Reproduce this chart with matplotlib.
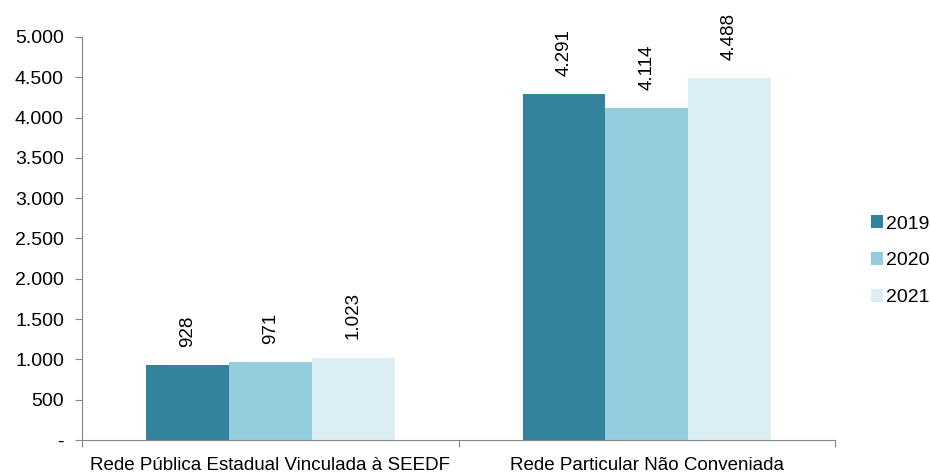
import matplotlib
matplotlib.use("Agg")
import matplotlib.pyplot as plt
import numpy as np
from matplotlib.ticker import FuncFormatter

plt.rcParams["font.family"] = ["Liberation Sans", "DejaVu Sans"]

categories = ["Rede Pública Estadual Vinculada à SEEDF", "Rede Particular Não Conveniada"]
years = ["2019", "2020", "2021"]
values = {
    "2019": [928, 4291],
    "2020": [971, 4114],
    "2021": [1023, 4488],
}
colors = ["#31849B", "#93CDDD", "#DAEEF3"]


def fmt_br(v, _pos=None):
    if v == 0:
        return "-"
    return f"{v:,.0f}".replace(",", ".")


fig = plt.figure(figsize=(9.3, 4.74), dpi=100)
ax = fig.add_axes([0.0882, 0.0717, 0.8097, 0.8505])

x = np.arange(len(categories))
width = 0.22
for i, (year, color) in enumerate(zip(years, colors)):
    pos = x + (i - 1) * width
    bars = ax.bar(pos, values[year], width, color=color, label=year)
    for b, v in zip(bars, values[year]):
        ax.annotate(fmt_br(v), (b.get_x() + b.get_width() / 2, v),
                    xytext=(0, 13), textcoords="offset points",
                    rotation=90, ha="center", va="bottom", fontsize=13.5)

ax.set_xlim(-0.5, 1.5)
ax.set_ylim(0, 5000)
ax.set_yticks(np.arange(0, 5001, 500))
ax.yaxis.set_major_formatter(FuncFormatter(fmt_br))

# category boundaries get the tick marks, names sit on minor ticks
ax.set_xticks([-0.5, 0.5, 1.5])
ax.set_xticklabels([])
ax.set_xticks(x, minor=True)
ax.set_xticklabels(categories, minor=True)
ax.tick_params(axis="x", which="minor", length=0, pad=12, labelsize=13.5)
ax.tick_params(axis="x", which="major", length=5, color="#868686")
ax.tick_params(axis="y", length=5, color="#868686", labelsize=14, pad=8)

for side in ["top", "right"]:
    ax.spines[side].set_visible(False)
for side in ["left", "bottom"]:
    ax.spines[side].set_color("#868686")

ax.legend(loc="center left", bbox_to_anchor=(1.037, 0.445), frameon=False,
          fontsize=14, handlelength=0.65, handleheight=0.65,
          handletextpad=0.15, labelspacing=1.0, borderaxespad=0)

fig.savefig("out.png", dpi=100)
